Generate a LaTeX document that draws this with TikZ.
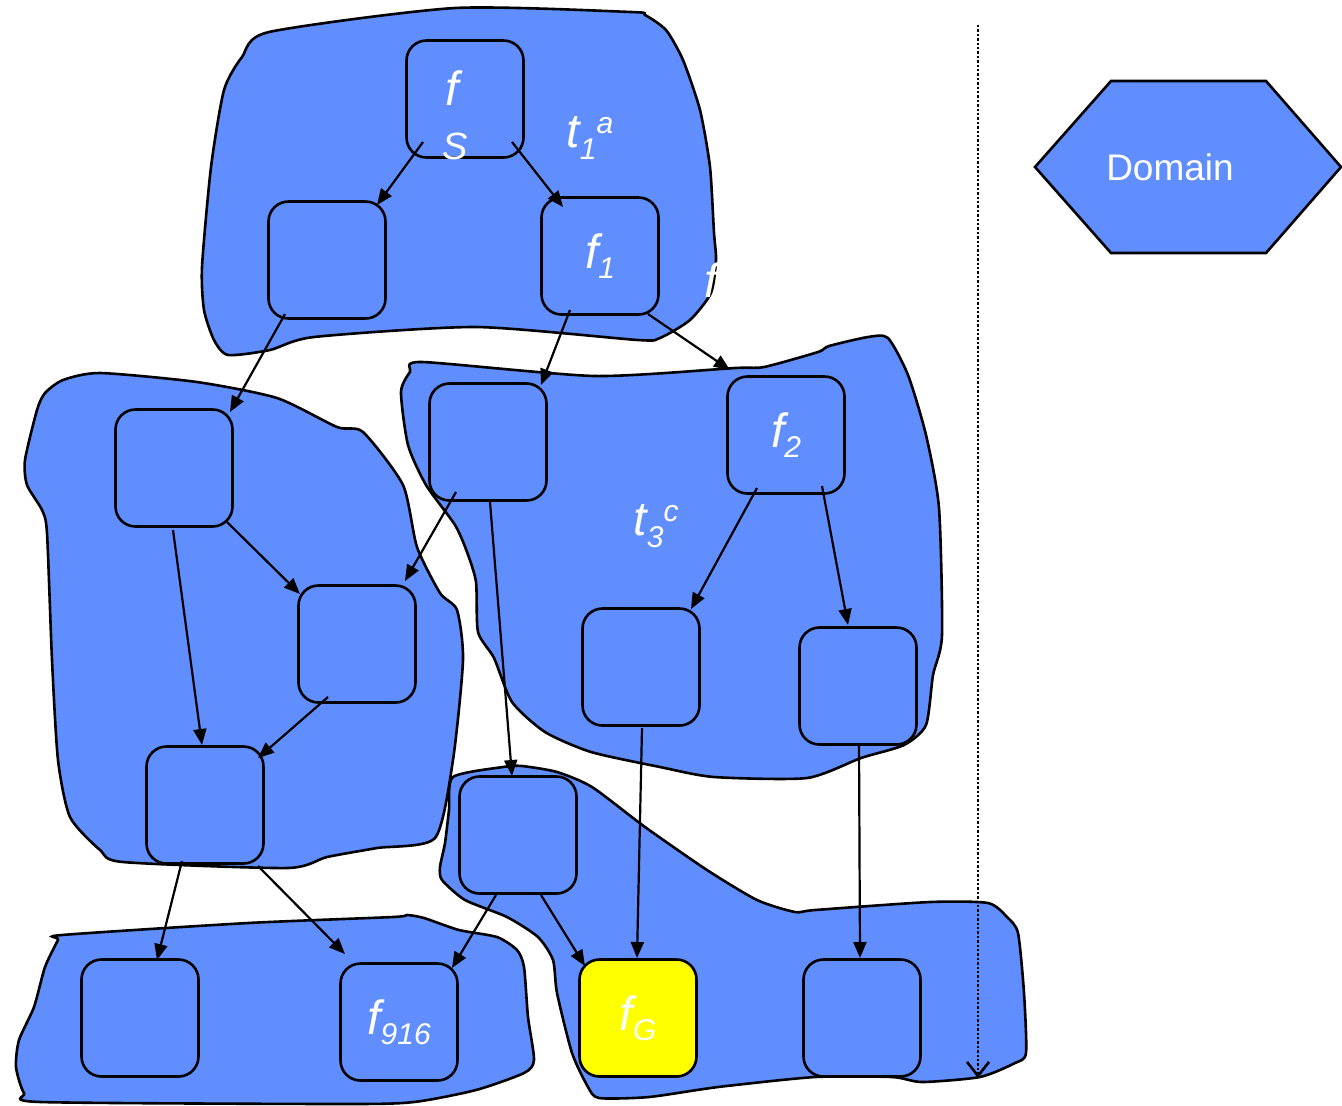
\documentclass[tikz,border=0pt]{standalone}
\usepackage{fontspec}
\setsansfont{Liberation Sans}
\usetikzlibrary{arrows.meta,calc}
\definecolor{blobblue}{RGB}{96,142,255}
\definecolor{goalyellow}{RGB}{255,255,0}
\newcommand{\fsub}[2]{#1\raisebox{-5pt}{\fontsize{15}{15}\selectfont #2}}
\newcommand{\tlab}[3]{#1\raisebox{-6pt}{\fontsize{15}{15}\selectfont #2}\raisebox{7pt}{\fontsize{15}{15}\selectfont #3}}

\begin{document}
\begin{tikzpicture}[
    x=0.5pt, y=-0.5pt,
    region/.style={draw, fill=blobblue, line width=1.3pt},
    fbox/.style={draw, rounded corners=10pt, minimum size=58.5pt, inner sep=0pt, fill=blobblue, line width=1.3pt, text=white, font=\sffamily\itshape\fontsize{24}{26}\selectfont},
    lbl/.style={text=white, inner sep=0pt, font=\sffamily\itshape\fontsize{24}{26}\selectfont},
    arr/.style={-{Triangle[length=8pt,width=6.5pt]}, line width=1.1pt}
]
\useasboundingbox (0,0) rectangle (1342,1105);

% regions
\draw[region] plot[smooth cycle, tension=0.4] coordinates {(269,32) (455,8) (631,12) (645,15) (666,30) (683,60) (700,110) (710,167) (714,233) (716,260) (711,293) (690,320) (660,338) (638,340) (476,327) (314,337) (270,350) (228,355) (214,340) (204,310) (202,267) (211,167) (224,90) (242,57)};
\draw[region] plot[smooth cycle, tension=0.4] coordinates {(45,393) (63,380) (100,373) (197,382) (277,398) (337,427) (363,432) (403,485) (417,547) (440,593) (457,610) (463,660) (453,760) (435,838) (377,848) (327,857) (287,868) (123,862) (100,850) (70,817) (58,760) (52,660) (47,533) (42,510) (27,485) (25,460) (37,410)};
\draw[region] plot[smooth cycle, tension=0.4] coordinates {(422,362) (595,376) (735,368) (764,367) (818,352) (829,346) (868,337) (888,338) (908,375) (926,435) (939,508) (942,635) (933,675) (926,725) (904,745) (861,758) (807,778) (714,777) (660,767) (591,752) (545,732) (512,702) (494,658) (478,632) (476,582) (467,552) (455,525) (426,485) (408,445) (401,392) (410,372)};
\draw[region] plot[smooth cycle, tension=0.4] coordinates {(453,777) (503,767) (522,766) (557,772) (592,787) (645,827) (707,870) (757,900) (795,912) (815,910) (930,902) (988,903) (1007,917) (1018,933) (1024,993) (1026,1053) (1015,1063) (980,1077) (922,1082) (892,1077) (815,1077) (718,1087) (649,1097) (599,1098) (588,1087) (572,1053) (557,993) (553,960) (538,937) (507,917) (465,900) (442,880) (440,867) (445,843) (449,810)};
\draw[region] plot[smooth cycle, tension=0.4] coordinates {(62,935) (248,923) (393,917) (407,915) (424,918) (459,930) (497,937) (517,950) (524,967) (528,1017) (534,1060) (524,1073) (476,1090) (414,1102) (345,1104) (41,1102) (24,1093) (16,1067) (19,1040) (34,1007) (45,967) (58,940)};

% legend
\draw[region] (1035,167) -- (1111,81) -- (1266,81) -- (1341,167) -- (1266,253) -- (1111,253) -- cycle;
\node[text=white, font=\sffamily\fontsize{18.5}{20}\selectfont] (dom) at (1170,167) {Domain};

% function boxes
\node[fbox] (fs) at (465,99) {};
\node[fbox] (q1) at (327,260) {};
\node[fbox] (f1) at (600,256) {\fsub{f}{1}};
\node[fbox] (q2) at (174,468) {};
\node[fbox] (q3) at (357,644) {};
\node[fbox] (q4) at (205,805) {};
\node[fbox] (q5) at (488,442) {};
\node[fbox] (f2) at (786,435) {\fsub{f}{2}};
\node[fbox] (q6) at (641,667) {};
\node[fbox] (q7) at (858,686) {};
\node[fbox] (q8) at (518,835) {};
\node[fbox, fill=goalyellow] (fg) at (638,1018) {\fsub{f}{G}};
\node[fbox] (q9) at (862,1018) {};
\node[fbox] (q10) at (140,1018) {};
\node[fbox] (f916) at (399,1022) {\fsub{f}{916}};

\node[lbl] (fsf) at (452,88) {f};
\node[lbl, font=\sffamily\itshape\fontsize{19}{20}\selectfont] (fss) at (455,146) {S};
\node[lbl] (ta) at (590,138) {\tlab{t}{1}{a}};
\node[lbl] (tc) at (656,526) {\tlab{t}{3}{c}};
\node[lbl] (tb) at (711,280) {f};

% flows
\draw[arr] ($(fs)+(-42,43)$) -- ($(q1)+(50,-55)$);
\draw[arr] ($(fs)+(47,43)$) -- ($(f1)+(-37,-49)$);
\draw[arr] ($(q1)+(-42,54)$) -- ($(q2)+(56,-56)$);
\draw[arr] ($(f1)+(-30,54)$) -- ($(q5)+(53,-57)$);
\draw[arr] ($(f1)+(48,58)$) -- ($(f2)+(-56,-65)$);
\draw[arr] ($(q2)+(53,54)$) -- ($(q3)+(-57,-50)$);
\draw[arr] ($(q2)+(-1,62)$) -- ($(q4)+(-3,-60)$);
\draw[arr] ($(q3)+(-29,53)$) -- ($(q4)+(53,-47)$);
\draw[arr] ($(q5)+(-32,50)$) -- ($(q3)+(48,-63)$);
\draw[arr] ($(q5)+(2,60)$) -- ($(q8)+(-6,-59)$);
\draw[arr] ($(f2)+(-29,53)$) -- ($(q6)+(50,-58)$);
\draw[arr] ($(f2)+(36,51)$) -- ($(q7)+(-10,-61)$);
\draw[arr] ($(q6)+(1,61)$) -- ($(fg)+(-1,-60)$);
\draw[arr] ($(q7)+(1,58)$) -- ($(q9)+(-2,-60)$);
\draw[arr] ($(q4)+(-23,56)$) -- ($(q10)+(17,-58)$);
\draw[arr] ($(q4)+(53,61)$) -- ($(f916)+(-54,-68)$);
\draw[arr] ($(q8)+(-22,60)$) -- ($(f916)+(53,-54)$);
\draw[arr] ($(q8)+(23,60)$) -- ($(fg)+(-53,-52)$);

% time line
\coordinate (dtop) at (978,25);
\coordinate (dbot) at (978,1078);
\draw[dash pattern=on 1.2pt off 1pt, line width=1.3pt, -{Straight Barb[length=7pt,width=11pt]}] (dtop) -- (dbot);
\end{tikzpicture}
\end{document}
